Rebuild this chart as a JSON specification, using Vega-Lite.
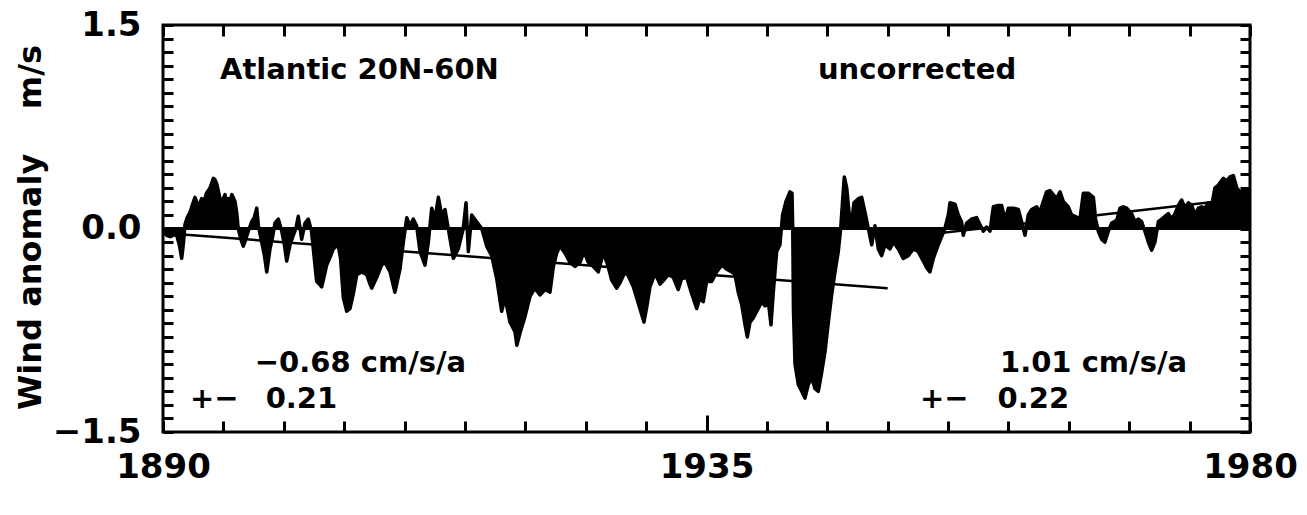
{
  "$schema": "https://vega.github.io/schema/vega-lite/v6.json",
  "width": 1087,
  "height": 407,
  "autosize": {"type": "none"},
  "padding": {"left": 163, "top": 25, "right": 57, "bottom": 83},
  "background": "white",
  "config": {
    "view": {"stroke": "black", "strokeWidth": 3},
    "font": "DejaVu Sans",
    "axis": {"grid": false, "domain": false, "labelColor": "black", "tickColor": "black", "titleColor": "black"}
  },
  "datasets": {
    "wind": [
      {"t":1890.0,"v":-0.02},{"t":1890.3,"v":-0.05},{"t":1890.6,"v":-0.06},{"t":1891.1,"v":-0.04},
      {"t":1891.35,"v":-0.12},{"t":1891.55,"v":-0.22},{"t":1891.7,"v":-0.1},{"t":1891.82,"v":0.03},
      {"t":1892.0,"v":0.08},{"t":1892.24,"v":0.12},{"t":1892.45,"v":0.18},{"t":1892.65,"v":0.23},
      {"t":1892.93,"v":0.16},{"t":1893.2,"v":0.22},{"t":1893.4,"v":0.2},{"t":1893.6,"v":0.26},
      {"t":1893.9,"v":0.30},{"t":1894.17,"v":0.37},{"t":1894.3,"v":0.36},{"t":1894.45,"v":0.33},
      {"t":1894.72,"v":0.22},{"t":1894.9,"v":0.2},{"t":1895.13,"v":0.25},{"t":1895.25,"v":0.18},
      {"t":1895.4,"v":0.22},{"t":1895.55,"v":0.2},{"t":1895.7,"v":0.25},{"t":1895.96,"v":0.20},
      {"t":1896.1,"v":0.12},{"t":1896.23,"v":0.0},{"t":1896.45,"v":-0.08},{"t":1896.65,"v":-0.13},
      {"t":1896.85,"v":-0.08},{"t":1897.06,"v":-0.02},{"t":1897.34,"v":0.05},{"t":1897.55,"v":0.08},
      {"t":1897.76,"v":0.15},{"t":1897.9,"v":0.02},{"t":1898.17,"v":-0.10},{"t":1898.4,"v":-0.2},
      {"t":1898.59,"v":-0.32},{"t":1898.86,"v":-0.15},{"t":1899.1,"v":-0.05},{"t":1899.27,"v":0.04},
      {"t":1899.55,"v":0.07},{"t":1899.83,"v":-0.02},{"t":1900.05,"v":-0.12},{"t":1900.24,"v":-0.24},
      {"t":1900.52,"v":-0.12},{"t":1900.79,"v":-0.05},{"t":1901.0,"v":0.0},{"t":1901.2,"v":0.09},
      {"t":1901.35,"v":0.0},{"t":1901.48,"v":-0.08},{"t":1901.76,"v":0.04},{"t":1902.03,"v":0.07},
      {"t":1902.3,"v":-0.02},{"t":1902.5,"v":-0.2},{"t":1902.72,"v":-0.39},{"t":1903.14,"v":-0.43},
      {"t":1903.35,"v":-0.35},{"t":1903.55,"v":-0.27},{"t":1903.8,"v":-0.22},{"t":1904.1,"v":-0.15},
      {"t":1904.5,"v":-0.12},{"t":1904.7,"v":-0.22},{"t":1904.93,"v":-0.51},{"t":1905.21,"v":-0.61},
      {"t":1905.48,"v":-0.59},{"t":1905.76,"v":-0.48},{"t":1906.04,"v":-0.34},{"t":1906.45,"v":-0.32},
      {"t":1906.87,"v":-0.34},{"t":1907.1,"v":-0.4},{"t":1907.28,"v":-0.44},{"t":1907.7,"v":-0.36},
      {"t":1908.1,"v":-0.27},{"t":1908.38,"v":-0.25},{"t":1908.8,"v":-0.32},{"t":1909.2,"v":-0.47},
      {"t":1909.62,"v":-0.30},{"t":1909.9,"v":-0.10},{"t":1910.18,"v":0.08},{"t":1910.45,"v":0.02},
      {"t":1910.72,"v":0.07},{"t":1911.0,"v":0.02},{"t":1911.28,"v":-0.17},{"t":1911.69,"v":-0.27},
      {"t":1911.97,"v":-0.10},{"t":1912.25,"v":0.15},{"t":1912.52,"v":0.07},{"t":1912.8,"v":0.23},
      {"t":1913.07,"v":0.10},{"t":1913.35,"v":0.14},{"t":1913.62,"v":0.0},{"t":1914.04,"v":-0.22},
      {"t":1914.45,"v":-0.15},{"t":1914.86,"v":0.0},{"t":1915.09,"v":0.19},{"t":1915.28,"v":-0.17},
      {"t":1915.56,"v":0.10},{"t":1915.97,"v":0.05},{"t":1916.39,"v":0.0},{"t":1916.8,"v":-0.13},
      {"t":1917.21,"v":-0.20},{"t":1917.63,"v":-0.37},{"t":1918.04,"v":-0.61},{"t":1918.32,"v":-0.51},
      {"t":1918.73,"v":-0.69},{"t":1919.14,"v":-0.76},{"t":1919.3,"v":-0.86},{"t":1919.56,"v":-0.77},
      {"t":1919.97,"v":-0.65},{"t":1920.39,"v":-0.50},{"t":1920.8,"v":-0.44},{"t":1921.21,"v":-0.49},
      {"t":1921.63,"v":-0.45},{"t":1922.04,"v":-0.47},{"t":1922.32,"v":-0.28},{"t":1922.6,"v":-0.18},
      {"t":1922.87,"v":-0.13},{"t":1923.28,"v":-0.18},{"t":1923.7,"v":-0.25},{"t":1924.11,"v":-0.28},
      {"t":1924.53,"v":-0.25},{"t":1924.86,"v":-0.17},{"t":1925.21,"v":-0.25},{"t":1925.63,"v":-0.28},
      {"t":1926.04,"v":-0.32},{"t":1926.46,"v":-0.18},{"t":1926.79,"v":-0.26},{"t":1927.15,"v":-0.38},
      {"t":1927.56,"v":-0.44},{"t":1927.84,"v":-0.40},{"t":1928.25,"v":-0.32},{"t":1928.53,"v":-0.35},
      {"t":1928.94,"v":-0.43},{"t":1929.35,"v":-0.55},{"t":1929.82,"v":-0.69},{"t":1930.05,"v":-0.58},
      {"t":1930.32,"v":-0.43},{"t":1930.74,"v":-0.33},{"t":1931.15,"v":-0.41},{"t":1931.56,"v":-0.37},
      {"t":1931.84,"v":-0.34},{"t":1932.25,"v":-0.36},{"t":1932.66,"v":-0.45},{"t":1932.94,"v":-0.37},
      {"t":1933.36,"v":-0.36},{"t":1933.77,"v":-0.48},{"t":1934.19,"v":-0.59},{"t":1934.46,"v":-0.51},
      {"t":1934.73,"v":-0.54},{"t":1935.01,"v":-0.39},{"t":1935.43,"v":-0.39},{"t":1935.84,"v":-0.32},
      {"t":1936.26,"v":-0.27},{"t":1936.67,"v":-0.30},{"t":1937.09,"v":-0.32},{"t":1937.36,"v":-0.34},
      {"t":1937.63,"v":-0.47},{"t":1937.91,"v":-0.56},{"t":1938.19,"v":-0.71},{"t":1938.38,"v":-0.80},
      {"t":1938.6,"v":-0.69},{"t":1938.87,"v":-0.66},{"t":1939.29,"v":-0.59},{"t":1939.57,"v":-0.54},
      {"t":1939.84,"v":-0.57},{"t":1940.12,"v":-0.54},{"t":1940.34,"v":-0.71},{"t":1940.53,"v":-0.47},
      {"t":1940.81,"v":-0.17},{"t":1941.08,"v":-0.12},{"t":1941.3,"v":0.10},{"t":1941.58,"v":0.20},
      {"t":1941.91,"v":0.27},{"t":1942.08,"v":0.26},{"t":1942.14,"v":0.0},{"t":1942.2,"v":-0.6},
      {"t":1942.33,"v":-1.00},{"t":1942.6,"v":-1.15},{"t":1942.88,"v":-1.20},{"t":1943.15,"v":-1.25},
      {"t":1943.43,"v":-1.15},{"t":1943.71,"v":-1.10},{"t":1943.98,"v":-1.18},{"t":1944.26,"v":-1.20},
      {"t":1944.54,"v":-1.06},{"t":1944.81,"v":-0.91},{"t":1945.09,"v":-0.69},{"t":1945.36,"v":-0.49},
      {"t":1945.64,"v":-0.32},{"t":1945.91,"v":-0.17},{"t":1946.11,"v":0.0},{"t":1946.28,"v":0.22},
      {"t":1946.41,"v":0.38},{"t":1946.61,"v":0.30},{"t":1946.82,"v":0.10},{"t":1947.02,"v":0.05},
      {"t":1947.21,"v":0.19},{"t":1947.57,"v":0.22},{"t":1947.85,"v":0.23},{"t":1948.12,"v":0.12},
      {"t":1948.4,"v":0.0},{"t":1948.68,"v":-0.12},{"t":1948.95,"v":0.02},{"t":1949.22,"v":-0.15},
      {"t":1949.5,"v":-0.20},{"t":1949.78,"v":-0.12},{"t":1950.19,"v":-0.15},{"t":1950.47,"v":-0.10},
      {"t":1950.88,"v":-0.15},{"t":1951.29,"v":-0.22},{"t":1951.71,"v":-0.20},{"t":1952.12,"v":-0.15},
      {"t":1952.53,"v":-0.17},{"t":1952.95,"v":-0.24},{"t":1953.23,"v":-0.29},{"t":1953.5,"v":-0.32},
      {"t":1953.78,"v":-0.22},{"t":1954.19,"v":-0.12},{"t":1954.47,"v":-0.06},{"t":1954.74,"v":0.0},
      {"t":1955.02,"v":0.10},{"t":1955.16,"v":0.19},{"t":1955.57,"v":0.18},{"t":1955.85,"v":0.10},
      {"t":1956.12,"v":0.05},{"t":1956.26,"v":-0.05},{"t":1956.54,"v":0.04},{"t":1956.95,"v":0.07},
      {"t":1957.37,"v":0.08},{"t":1957.64,"v":0.03},{"t":1957.92,"v":-0.02},{"t":1958.2,"v":0.01},
      {"t":1958.47,"v":-0.02},{"t":1958.75,"v":0.16},{"t":1959.16,"v":0.17},{"t":1959.44,"v":0.17},
      {"t":1959.71,"v":0.06},{"t":1959.99,"v":0.15},{"t":1960.4,"v":0.15},{"t":1960.82,"v":0.14},
      {"t":1961.09,"v":0.05},{"t":1961.37,"v":-0.05},{"t":1961.64,"v":0.10},{"t":1961.92,"v":0.14},
      {"t":1962.34,"v":0.16},{"t":1962.61,"v":0.12},{"t":1962.89,"v":0.20},{"t":1963.16,"v":0.27},
      {"t":1963.44,"v":0.28},{"t":1963.71,"v":0.25},{"t":1963.99,"v":0.22},{"t":1964.27,"v":0.27},
      {"t":1964.54,"v":0.20},{"t":1964.95,"v":0.16},{"t":1965.23,"v":0.10},{"t":1965.51,"v":0.09},
      {"t":1965.92,"v":0.07},{"t":1966.2,"v":0.26},{"t":1966.61,"v":0.26},{"t":1967.03,"v":0.23},
      {"t":1967.22,"v":0.07},{"t":1967.44,"v":-0.02},{"t":1967.72,"v":-0.08},{"t":1967.99,"v":-0.10},
      {"t":1968.27,"v":-0.02},{"t":1968.55,"v":0.04},{"t":1968.96,"v":0.06},{"t":1969.24,"v":0.15},
      {"t":1969.51,"v":0.16},{"t":1969.79,"v":0.15},{"t":1970.2,"v":0.11},{"t":1970.48,"v":0.05},
      {"t":1970.75,"v":0.07},{"t":1971.03,"v":0.05},{"t":1971.3,"v":-0.02},{"t":1971.58,"v":-0.10},
      {"t":1971.86,"v":-0.16},{"t":1972.13,"v":-0.10},{"t":1972.41,"v":0.05},{"t":1972.69,"v":0.07},
      {"t":1972.96,"v":0.09},{"t":1973.24,"v":0.11},{"t":1973.52,"v":0.07},{"t":1973.79,"v":0.11},
      {"t":1974.07,"v":0.17},{"t":1974.34,"v":0.21},{"t":1974.62,"v":0.15},{"t":1974.9,"v":0.19},
      {"t":1975.17,"v":0.17},{"t":1975.45,"v":0.10},{"t":1975.72,"v":0.15},{"t":1976.0,"v":0.16},
      {"t":1976.27,"v":0.15},{"t":1976.55,"v":0.19},{"t":1976.83,"v":0.17},{"t":1977.1,"v":0.30},
      {"t":1977.38,"v":0.32},{"t":1977.79,"v":0.37},{"t":1978.07,"v":0.35},{"t":1978.34,"v":0.38},
      {"t":1978.62,"v":0.39},{"t":1978.9,"v":0.30},{"t":1979.17,"v":0.27},{"t":1979.45,"v":0.27},
      {"t":1979.72,"v":0.28},{"t":1980.0,"v":0.29}
    ],
    "trend": [
      {"t":1890,"v":-0.033,"seg":"1890-1950"},{"t":1950,"v":-0.441,"seg":"1890-1950"},
      {"t":1950,"v":-0.077,"seg":"1950-1980"},{"t":1980,"v":0.226,"seg":"1950-1980"}
    ],
    "zero": [{"t":1890,"v":0},{"t":1980,"v":0}],
    "notes": [
      {"t":1894.72,"v":1.10,"label":"Atlantic 20N-60N"},
      {"t":1944.23,"v":1.10,"label":"uncorrected"},
      {"t":1897.6,"v":-1.06,"label":"−0.68 cm/s/a"},
      {"t":1892.24,"v":-1.323,"label":"+−"},
      {"t":1898.5,"v":-1.323,"label":"0.21"},
      {"t":1959.3,"v":-1.06,"label":"1.01 cm/s/a"},
      {"t":1952.68,"v":-1.323,"label":"+−"},
      {"t":1959.1,"v":-1.323,"label":"0.22"}
    ]
  },
  "resolve": {"axis": {"x": "independent", "y": "independent"}},
  "layer": [
    {
      "data": {"name": "wind"},
      "mark": {"type": "area", "color": "black", "interpolate": "linear"},
      "encoding": {
        "x": {
          "field": "t", "type": "quantitative",
          "scale": {"domain": [1890, 1980], "nice": false, "zero": false},
          "axis": {
            "orient": "bottom", "values": [1890, 1935, 1980], "format": "d",
            "ticks": false, "labelFontSize": 34, "labelFontWeight": "bold",
            "labelPadding": 18, "labelFlush": false, "labelOverlap": false, "title": null
          }
        },
        "y": {
          "field": "v", "type": "quantitative",
          "scale": {"domain": [-1.5, 1.5], "nice": false, "zero": false},
          "axis": {
            "orient": "left", "values": [-1.5, 0, 1.5], "format": ".1f",
            "ticks": false, "labelFontSize": 34, "labelFontWeight": "bold",
            "labelPadding": 22, "labelFlush": false, "labelOverlap": false,
            "title": "Wind anomaly\u00a0\u00a0\u00a0\u00a0m/s", "titleFontSize": 32, "titleFontWeight": "bold",
            "titleX": -133, "titleY": 202, "titleAngle": -90, "titleAlign": "center", "titleBaseline": "middle"
          }
        },
        "y2": {"datum": 0}
      }
    },
    {
      "data": {"name": "wind"},
      "mark": {"type": "line", "color": "black", "strokeWidth": 3.5, "strokeJoin": "round"},
      "encoding": {
        "x": {
          "field": "t", "type": "quantitative",
          "axis": {
            "orient": "bottom", "labels": false, "tickSize": -11, "tickWidth": 3, "title": null,
            "values": [1890,1895,1900,1905,1910,1915,1920,1925,1930,1935,1940,1945,1950,1955,1960,1965,1970,1975,1980]
          }
        },
        "y": {
          "field": "v", "type": "quantitative",
          "axis": {
            "orient": "left", "labels": false, "tickSize": -10, "tickWidth": 3, "title": null,
            "values": [-1.5,-1.4,-1.3,-1.2,-1.1,-1.0,-0.9,-0.8,-0.7,-0.6,-0.5,-0.4,-0.3,-0.2,-0.1,0,0.1,0.2,0.3,0.4,0.5,0.6,0.7,0.8,0.9,1.0,1.1,1.2,1.3,1.4,1.5]
          }
        }
      }
    },
    {
      "data": {"name": "trend"},
      "mark": {"type": "line", "color": "black", "strokeWidth": 2.5},
      "encoding": {
        "x": {
          "field": "t", "type": "quantitative",
          "axis": {
            "orient": "top", "labels": false, "tickSize": -11, "tickWidth": 3, "title": null,
            "values": [1890,1895,1900,1905,1910,1915,1920,1925,1930,1935,1940,1945,1950,1955,1960,1965,1970,1975,1980]
          }
        },
        "y": {
          "field": "v", "type": "quantitative",
          "axis": {
            "orient": "right", "labels": false, "tickSize": -10, "tickWidth": 3, "title": null,
            "values": [-1.5,-1.4,-1.3,-1.2,-1.1,-1.0,-0.9,-0.8,-0.7,-0.6,-0.5,-0.4,-0.3,-0.2,-0.1,0,0.1,0.2,0.3,0.4,0.5,0.6,0.7,0.8,0.9,1.0,1.1,1.2,1.3,1.4,1.5]
          }
        },
        "detail": {"field": "seg"}
      }
    },
    {
      "data": {"name": "zero"},
      "mark": {"type": "line", "color": "black", "strokeWidth": 3},
      "encoding": {
        "x": {
          "field": "t", "type": "quantitative",
          "axis": {"orient": "bottom", "labels": false, "tickSize": -17, "tickWidth": 3, "title": null, "values": [1935]}
        },
        "y": {"field": "v", "type": "quantitative", "axis": null}
      }
    },
    {
      "data": {"name": "notes"},
      "mark": {"type": "text", "align": "left", "baseline": "alphabetic", "fontSize": 29, "fontWeight": "bold", "font": "DejaVu Sans", "color": "black"},
      "encoding": {
        "x": {"field": "t", "type": "quantitative", "axis": null},
        "y": {"field": "v", "type": "quantitative", "axis": null},
        "text": {"field": "label"}
      }
    }
  ]
}
